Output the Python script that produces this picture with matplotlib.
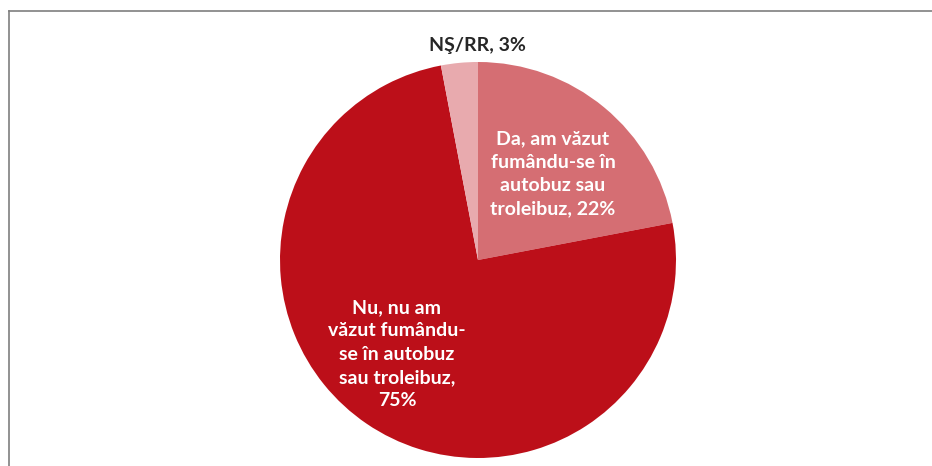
import matplotlib

matplotlib.use("Agg")
import matplotlib.pyplot as plt
from matplotlib.lines import Line2D

# slice data, clockwise from 12 o'clock
labels = [
    "Da, am văzut\nfumându-se în\nautobuz sau\ntroleibuz, 22%",
    "Nu, nu am\nvăzut fumându-\nse în autobuz\nsau troleibuz,\n75%",
    "NŞ/RR, 3%",
]
values = [22, 75, 3]
colors = ["#D56E73", "#BC0F19", "#E8AAAE"]

W, H = 932, 466
fig = plt.figure(figsize=(W / 100, H / 100), dpi=100)
ax = fig.add_axes([0, 0, 1, 1])

cx, cy, r = 478, 206, 198
ax.pie(values, colors=colors, startangle=90, counterclock=False,
       center=(cx, cy), radius=r, frame=True,
       wedgeprops=dict(linewidth=0))
ax.set_xlim(0, W)
ax.set_ylim(0, H)
ax.set_aspect("equal")
ax.axis("off")

font = dict(family=["Lato", "DejaVu Sans"], weight="bold", fontsize=14,
            ha="center", va="center", linespacing=1.45)
ax.text(cx + 75, cy + 86, labels[0], color="white", **font)
ax.text(cx - 81, cy - 94, labels[1], color="white", **font)
ax.text(cx - 1, cy + 215, labels[2], color="#262626", **font)

# chart frame (top and left edges)
fig.add_artist(Line2D([8.5 / W, 1], [1 - 10.5 / H, 1 - 10.5 / H],
                      transform=fig.transFigure, color="#7f7f7f", lw=1.2))
fig.add_artist(Line2D([8.5 / W, 8.5 / W], [0, 1 - 10.5 / H],
                      transform=fig.transFigure, color="#7f7f7f", lw=1.2))

fig.savefig("out.png", dpi=100)
